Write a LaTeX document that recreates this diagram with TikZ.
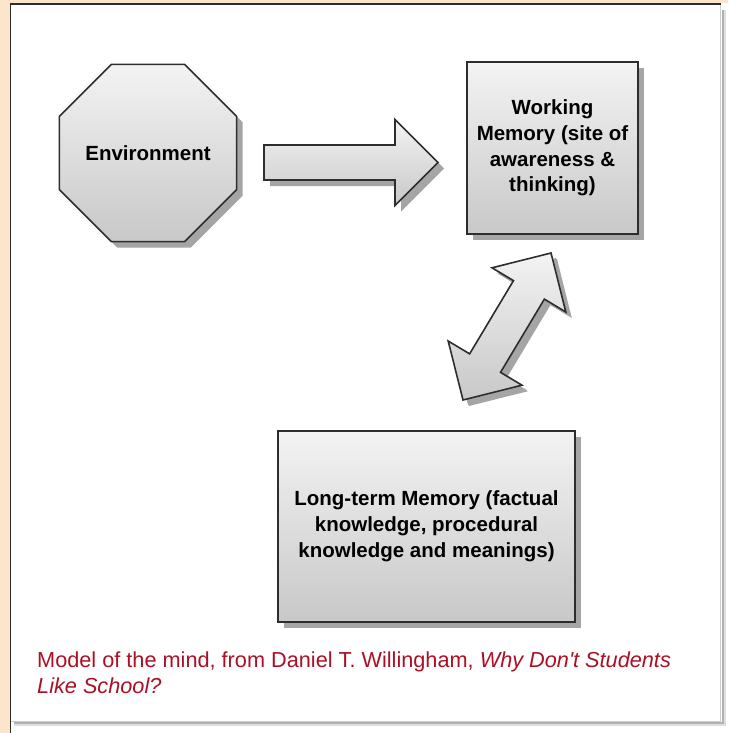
\documentclass[tikz,border=0pt]{standalone}
\usepackage{fontspec}
\setmainfont{Liberation Sans}[Ligatures=TeXOff]
\usetikzlibrary{shapes.geometric,shadows,calc}

\definecolor{peach}{RGB}{253,229,204}
\definecolor{edge}{RGB}{45,45,45}
\definecolor{captionred}{RGB}{172,16,38}
\definecolor{shapetop}{RGB}{243,243,243}
\definecolor{shapebottom}{RGB}{200,200,200}
\definecolor{shadowgray}{RGB}{165,165,165}

\tikzset{
  blockfill/.style={draw=edge, line width=1.6pt, line join=miter,
    top color=shapetop, bottom color=shapebottom,
    drop shadow={shadow xshift=6pt, shadow yshift=-6pt, fill=shadowgray, opacity=1}},
  boxtext/.style={font=\fontsize{20.5}{25.8}\selectfont\bfseries, align=center, text=black},
}

\begin{document}
\begin{tikzpicture}[x=1pt,y=-1pt]
\useasboundingbox (0,0) rectangle (728,733);

% page: peach margin on top and left, white panel with soft shadow
\fill[white] (0,0) rectangle (728,733);
\fill[peach] (0,0) rectangle (728,3.5);
\fill[peach] (0,0) rectangle (9.5,733);
\draw[gray!25, line width=4pt] (723.5,10) -- (723.5,724) -- (14,724);
\draw[gray!60, line width=2pt] (722.5,10) -- (722.5,723) -- (14,723);
\draw[gray!40, line width=0.8pt] (720.5,5) -- (720.5,721) -- (11,721);
\draw[edge, line width=1.8pt] (10.5,733) -- (10.5,4.4) -- (721,4.4);

% environment
\node[blockfill, boxtext, regular polygon, regular polygon sides=8,
      minimum size=186pt, inner sep=0pt] (env) at (148,153) {Environment};

% working memory
\node[blockfill, boxtext, rectangle, minimum width=171pt, minimum height=172pt,
      inner sep=0pt] (wm) at (552.5,148)
  {Working\\Memory (site of\\awareness \&\\thinking)};

% long-term memory
\node[blockfill, boxtext, rectangle, minimum width=297pt, minimum height=191pt,
      inner sep=0pt] (ltm) at (426.5,526.5)
  {Long-term Memory (factual\\knowledge, procedural\\knowledge and meanings)};

% block arrow from environment to working memory
\coordinate (ra) at (264,162.5);
\coordinate (rb) at (438,162.5);
\coordinate (rc) at ($(rb)!43pt!(ra)$);
\path[blockfill]
  ($(ra)!17.5pt!90:(rb)$) -- ($(rc)!17.5pt!90:(rb)$) -- ($(rc)!43pt!90:(rb)$)
  -- (rb)
  -- ($(rc)!43pt!-90:(rb)$) -- ($(rc)!17.5pt!-90:(rb)$) -- ($(ra)!17.5pt!-90:(rb)$)
  -- cycle;

% two-way block arrow between working memory and long-term memory
\coordinate (da) at (551,253);
\coordinate (db) at (463,400);
\coordinate (dc) at ($(da)!43pt!(db)$);
\coordinate (dd) at ($(db)!43pt!(da)$);
\path[blockfill, drop shadow={shadow xshift=5pt, shadow yshift=-5pt, fill=shadowgray, opacity=1}]
  (da) -- ($(dc)!43pt!90:(da)$) -- ($(dc)!18pt!90:(da)$)
  -- ($(dd)!18pt!90:(da)$) -- ($(dd)!43pt!90:(da)$)
  -- (db)
  -- ($(dd)!43pt!-90:(da)$) -- ($(dd)!18pt!-90:(da)$)
  -- ($(dc)!18pt!-90:(da)$) -- ($(dc)!43pt!-90:(da)$)
  -- cycle;

% caption
\node[anchor=north west, align=left, inner sep=0pt, text=captionred,
      font=\fontsize{21.7}{26.5}\selectfont] (caption) at (37,651.3)
  {Model of the mind, from Daniel T. Willingham, \textit{Why Don't Students}\\
   \textit{Like School?}};
\end{tikzpicture}
\end{document}
